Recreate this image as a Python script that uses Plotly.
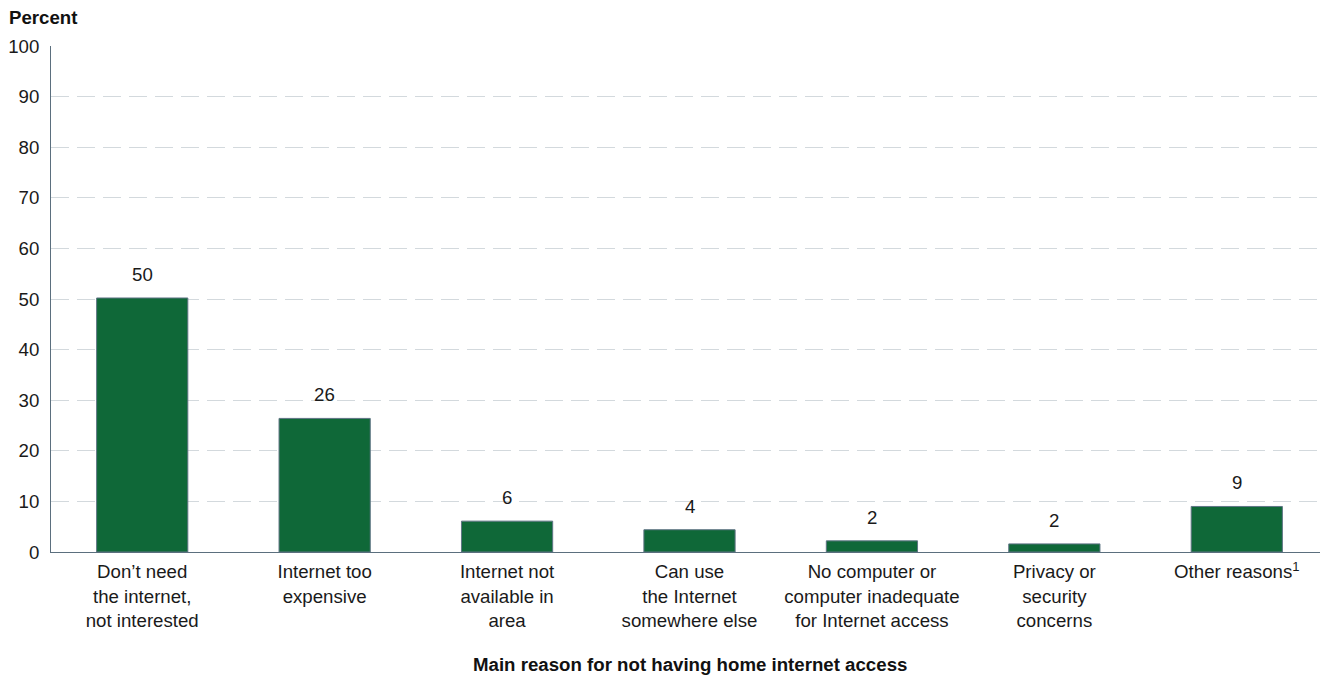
import plotly.graph_objects as go

categories = [
    "Don’t need<br>the internet,<br>not interested",
    "Internet too<br>expensive",
    "Internet not<br>available in<br>area",
    "Can use<br>the Internet<br>somewhere else",
    "No computer or<br>computer inadequate<br>for Internet access",
    "Privacy or<br>security<br>concerns",
    "Other reasons<sup>1</sup>",
]
values = [50.2, 26.4, 6.1, 4.4, 2.2, 1.6, 9.0]
value_labels = ["50", "26", "6", "4", "2", "2", "9"]
y_ticks = [0, 10, 20, 30, 40, 50, 60, 70, 80, 90, 100]

FONT = "Arial, Liberation Sans, sans-serif"
FS = 18.67
GREEN = "#0f6838"
AXIS = "#5b6f7e"
TXT = "#1a1a1a"

fig = go.Figure()
fig.add_trace(go.Bar(
    x=categories, y=values,
    marker=dict(color=GREEN, line=dict(color="#5f7484", width=1)),
    hoverinfo="skip",
))

for c, v, t in zip(categories, values, value_labels):
    fig.add_annotation(x=c, y=v, text=t, showarrow=False, yshift=23.5,
                       yanchor="middle", font=dict(family=FONT, size=FS, color=TXT))

fig.add_annotation(text="<b>Percent</b>", xref="paper", yref="paper",
                   x=-0.0345, y=1.057, xanchor="left", yanchor="middle", showarrow=False,
                   font=dict(family=FONT, size=FS, color="#111111"))
fig.add_annotation(text="<b>Main reason for not having home internet access</b>", xref="paper", yref="paper",
                   x=0.5, y=-0.2233, xanchor="center", yanchor="middle", showarrow=False,
                   font=dict(family=FONT, size=FS, color="#111111"))

fig.update_layout(
    width=1320, height=671,
    margin=dict(l=41, r=0, t=38, b=127),
    paper_bgcolor="white", plot_bgcolor="white",
    bargap=0.5, showlegend=False,
    font=dict(family=FONT, size=FS, color=TXT),
)
fig.update_xaxes(
    showline=True, linecolor=AXIS, linewidth=1, showgrid=False, ticks="",
    ticklabelstandoff=3,
    tickfont=dict(family=FONT, size=FS, color=TXT),
)
fig.update_yaxes(
    range=[0, 100], tickvals=y_ticks, showline=True, linecolor=AXIS, linewidth=1,
    showgrid=True, gridcolor="#d3d9dd", gridwidth=1, griddash="18px,8px",
    zeroline=False, ticks="", ticklabelstandoff=7,
    tickfont=dict(family=FONT, size=FS, color=TXT),
)

fig.write_html("out.html")
